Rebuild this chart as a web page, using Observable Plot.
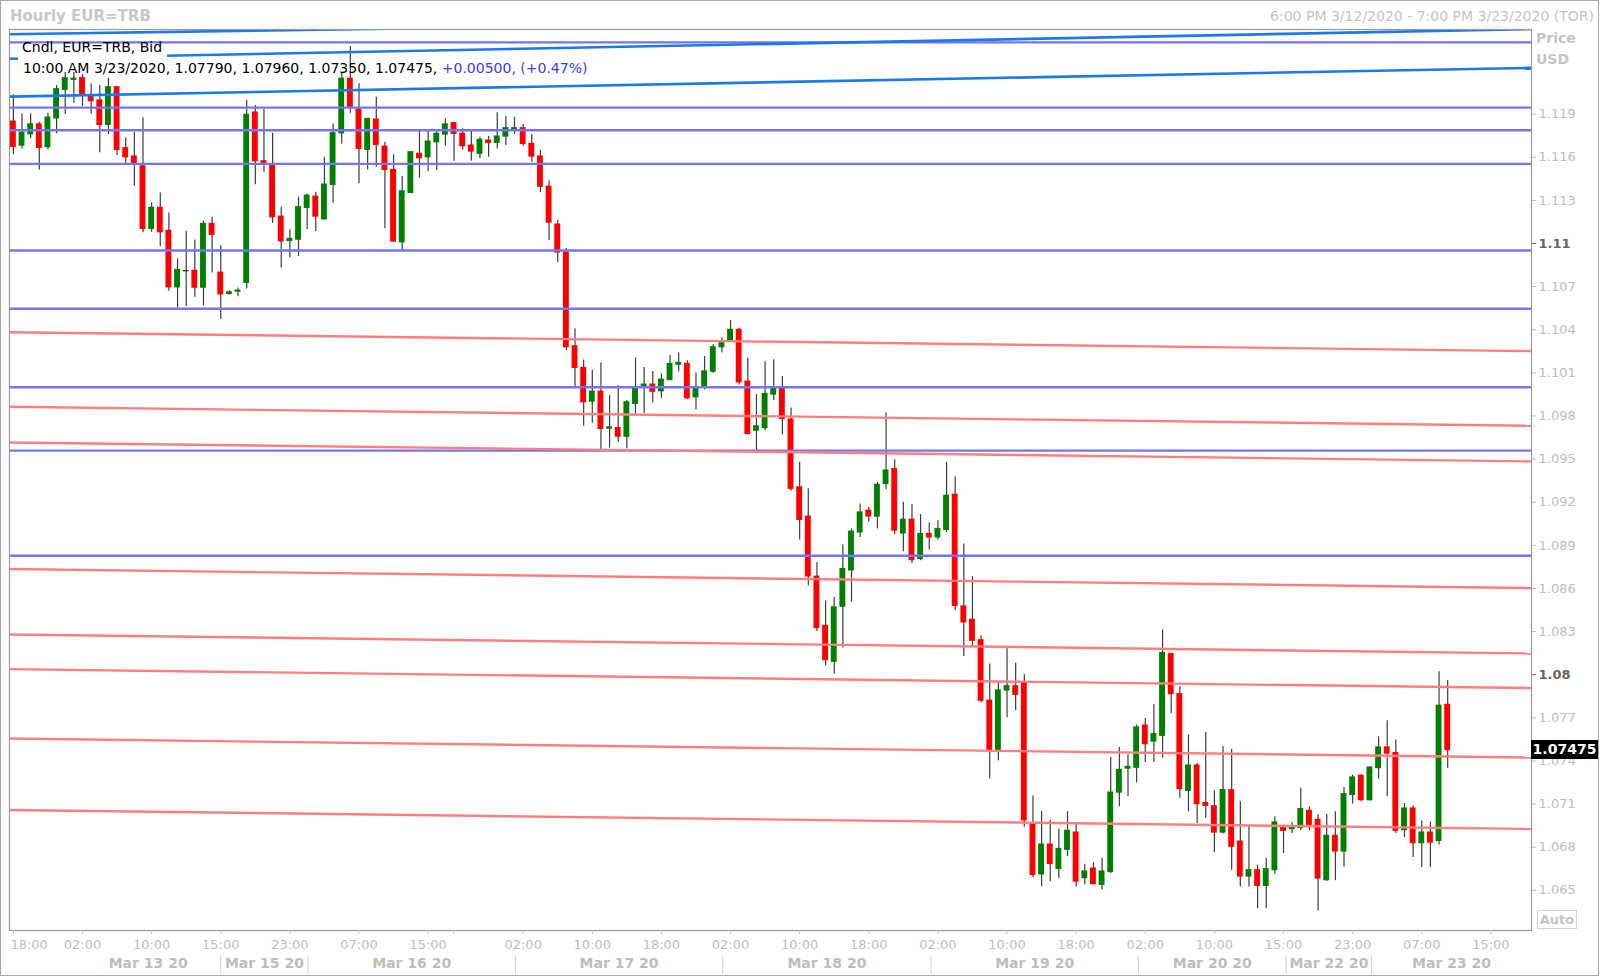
<!DOCTYPE html>
<html><head><meta charset="utf-8">
<script src="https://cdn.jsdelivr.net/npm/d3@7"></script>
<script src="https://cdn.jsdelivr.net/npm/@observablehq/plot@0.6"></script>
<style>
body{margin:0;background:#fff;font-family:"DejaVu Sans",sans-serif;}
#wrap{position:relative;width:1600px;height:977px;overflow:hidden;}
#wrap svg{position:absolute;left:0;top:0;}
.ov{position:absolute;white-space:nowrap;line-height:1;}
</style></head><body><div id="wrap"></div>
<script>
// Hourly EUR=TRB candles, index 0 = 6:00 PM 3/12/2020 (TOR)
const opens = [1.11848,1.11681,1.1176,1.11828,1.1167,1.11871,1.12069,1.12139,1.1215,1.12022,
1.11995,1.11825,1.12087,1.11663,1.11605,1.11537,1.11102,1.11248,1.11088,1.10695,
1.10807,1.1081,1.10693,1.11136,1.10797,1.10649,1.10665,1.10726,1.11911,1.11572,
1.11542,1.11187,1.11018,1.11027,1.11248,1.11326,1.11168,1.11408,1.11767,1.12146,
1.1193,1.11651,1.11862,1.11674,1.11512,1.11008,1.11352,1.11624,1.116,1.11704,
1.11758,1.11837,1.11763,1.11681,1.11624,1.11716,1.117,1.11744,1.11795,1.11802,
1.11693,1.11605,1.11395,1.11132,1.10937,1.10285,1.10134,1.099,1.09969,1.09712,
1.09716,1.09656,1.09884,1.10004,1.10018,1.09972,1.1005,1.10157,1.10162,1.0993,
1.10006,1.10108,1.10278,1.10325,1.10399,1.10039,1.09698,1.09716,1.09949,1.09999,
1.09775,1.09304,1.091,1.08682,1.0834,1.0809,1.08473,1.08726,1.0899,1.09141,
1.091,1.09327,1.09431,1.08983,1.09078,1.08805,1.08979,1.08955,1.09007,1.09252,
1.08475,1.08382,1.0824,1.07819,1.07471,1.0789,1.0792,1.07941,1.0696,1.06611,
1.06818,1.06649,1.06782,1.06902,1.06585,1.06651,1.06538,1.06628,1.0718,1.07347,
1.07353,1.07646,1.07535,1.07575,1.08144,1.07865,1.07192,1.07368,1.07107,1.07085,
1.06902,1.07197,1.06839,1.06596,1.0664,1.06531,1.0664,1.06942,1.06926,1.06933,
1.07053,1.0699,1.06571,1.06879,1.0677,1.07164,1.07297,1.07127,1.0735,1.07494,
1.07455,1.06919,1.07069,1.06828,1.06902,1.06844,1.0779];
const highs = [1.12034,1.11902,1.11902,1.11844,1.11906,1.12099,1.12189,1.12189,1.12175,1.12111,
1.12099,1.1215,1.1209,1.11735,1.1177,1.11874,1.11283,1.11352,1.11213,1.10893,
1.11083,1.11025,1.11155,1.11182,1.10985,1.10672,1.10691,1.11995,1.1196,1.11932,
1.11767,1.11252,1.11095,1.11322,1.11345,1.11356,1.116,1.11832,1.12189,1.1237,
1.12111,1.1187,1.12018,1.11704,1.11617,1.11466,1.11638,1.11779,1.11779,1.11779,
1.11867,1.11844,1.11798,1.11779,1.11739,1.11744,1.11909,1.11883,1.11878,1.11828,
1.11758,1.11647,1.11437,1.1116,1.10965,1.10406,1.1019,1.1012,1.10169,1.09941,
1.10011,1.09907,1.10204,1.10138,1.1011,1.10092,1.1022,1.10239,1.10185,1.10099,
1.10213,1.10296,1.10343,1.10464,1.1041,1.10202,1.09949,1.10178,1.10192,1.10075,
1.09856,1.09478,1.09293,1.08781,1.08515,1.08538,1.08902,1.09014,1.09188,1.09164,
1.09338,1.09821,1.09496,1.09199,1.09183,1.09113,1.09056,1.09071,1.09478,1.09377,
1.08909,1.08682,1.08271,1.08074,1.0795,1.0818,1.0808,1.08001,1.07157,1.07049,
1.06987,1.06926,1.07046,1.06965,1.06682,1.06693,1.06724,1.07424,1.07494,1.07443,
1.0765,1.07695,1.07791,1.08311,1.0815,1.07916,1.0758,1.07382,1.07598,1.07192,
1.07501,1.07482,1.07118,1.06949,1.06675,1.06724,1.07011,1.06954,1.06972,1.07211,
1.07081,1.07025,1.0703,1.07046,1.07215,1.07301,1.07304,1.07359,1.07568,1.07679,
1.07545,1.07104,1.07088,1.06983,1.06976,1.0802,1.0796];
const lows = [1.11619,1.11658,1.11728,1.11512,1.11651,1.11763,1.11897,1.11976,1.11953,1.11899,
1.11631,1.11758,1.11612,1.11554,1.11398,1.11074,1.11078,1.10978,1.10667,1.10552,
1.10561,1.10626,1.10566,1.10795,1.10471,1.10642,1.1063,1.10684,1.11408,1.11496,
1.11141,1.1083,1.109,1.10909,1.11097,1.11083,1.11164,1.1128,1.11693,1.11906,
1.11415,1.11512,1.1153,1.11102,1.11008,1.10951,1.11352,1.11454,1.115,1.11507,
1.11677,1.11572,1.11651,1.11572,1.11589,1.116,1.11658,1.11681,1.11758,1.11674,
1.11565,1.11353,1.1102,1.10867,1.10255,1.10006,1.09728,1.09749,1.09566,1.09577,
1.09616,1.0957,1.09814,1.09818,1.09891,1.09923,1.10046,1.10108,1.09914,1.09842,
1.09981,1.10097,1.10239,1.1032,1.10016,1.09668,1.09559,1.09698,1.09907,1.0967,
1.09276,1.08937,1.08619,1.08301,1.08062,1.08004,1.08185,1.08503,1.08955,1.0906,
1.09014,1.09287,1.08974,1.08856,1.08774,1.08793,1.08867,1.08937,1.0899,1.08445,
1.08127,1.08194,1.07805,1.07275,1.074,1.077,1.0775,1.06939,1.06589,1.06525,
1.06559,1.06582,1.06733,1.06524,1.06538,1.06538,1.06503,1.06617,1.07081,1.07153,
1.07246,1.07389,1.07389,1.0742,1.0773,1.07141,1.07046,1.06965,1.07002,1.06763,
1.06891,1.0664,1.06524,1.06524,1.06371,1.06371,1.06612,1.06756,1.06895,1.06914,
1.06914,1.06357,1.06561,1.06566,1.06663,1.071,1.07116,1.07122,1.07274,1.07153,
1.06895,1.06867,1.06728,1.06658,1.06658,1.06816,1.0735];
const closes = [1.11672,1.1177,1.11828,1.11665,1.11876,1.12073,1.1215,1.12146,1.12041,1.1199,
1.11825,1.12087,1.11651,1.116,1.11549,1.11102,1.11248,1.11078,1.10695,1.10816,
1.10807,1.10693,1.11136,1.1106,1.10646,1.1066,1.10672,1.11895,1.11572,1.11554,
1.11182,1.11015,1.11032,1.11252,1.11333,1.11187,1.1141,1.11767,1.12146,1.11948,
1.11658,1.11867,1.11686,1.11512,1.11013,1.11363,1.11635,1.11593,1.11709,1.11763,
1.11828,1.11763,1.11677,1.1164,1.11721,1.117,1.11744,1.11802,1.11802,1.11693,
1.11605,1.11395,1.11145,1.10937,1.10278,1.10134,1.09895,1.09969,1.0971,1.09721,
1.09656,1.09895,1.09988,1.10018,1.09969,1.10053,1.10162,1.10169,1.09923,1.09988,
1.1011,1.10278,1.10306,1.10399,1.10034,1.09675,1.09728,1.09953,1.09988,1.09779,
1.09293,1.09077,1.08684,1.08325,1.08101,1.08468,1.08735,1.08995,1.09129,1.09101,
1.09321,1.0942,1.09002,1.09078,1.08797,1.08979,1.08955,1.09014,1.09245,1.08479,
1.08364,1.08236,1.07819,1.07471,1.0789,1.0792,1.0786,1.06987,1.06607,1.06818,
1.06684,1.06788,1.06914,1.06561,1.06631,1.06543,1.06631,1.0718,1.07338,1.07359,
1.07633,1.07517,1.07587,1.08151,1.07865,1.07204,1.07368,1.071,1.07088,1.06902,
1.07197,1.06803,1.06596,1.0664,1.06531,1.06647,1.06972,1.06914,1.06942,1.07065,
1.06956,1.06582,1.06879,1.0677,1.07169,1.07285,1.07127,1.07354,1.07494,1.07452,
1.06914,1.07069,1.06828,1.06902,1.06832,1.07784,1.07475];

// time axis (candle index -> label)
const timeTickIdx = [0,8,16,24,32,40,48,51,59,67,75,83,91,99,107,115,123,131,139,147,155,163,171];
const timeTickLabels = ["18:00","02:00","10:00","15:00","23:00","07:00","15:00","","02:00","10:00","18:00","02:00","10:00","18:00","02:00","10:00","18:00","02:00","10:00","15:00","23:00","07:00","15:00"];
const dayStarts = [7.2,24,34.1,58.1,82.1,106.2,130.2,147.3,157.2];
const dayLabels = ["Mar 13 20","Mar 15 20","Mar 16 20","Mar 17 20","Mar 18 20","Mar 19 20","Mar 20 20","Mar 22 20","Mar 23 20"];
const xDomain = [-0.45, 175.7];
const yDomain = [1.062205, 1.124888];
const yTicks = [1.065,1.068,1.071,1.074,1.077,1.083,1.086,1.089,1.092,1.095,1.098,1.101,1.104,1.107,1.113,1.116,1.119];
const yTicksBold = [1.08,1.11];

// drawn support levels (horizontal)
const levels = [1.12399,1.11945,1.11788,1.11554,1.10951,1.10546,1.1,1.09559,1.08828];
// drawn red trend lines: value at left edge, value at right edge
const redLeft  = [1.10383,1.09864,1.09616,1.08735,1.0828,1.08039,1.07556,1.07059];
const redRight = [1.10251,1.09732,1.09484,1.08603,1.08148,1.07907,1.07424,1.06927];
// drawn blue trend lines
const blueLeft  = [1.12456,1.12285,1.12022];
const blueRight = [1.12611,1.12492,1.12222];

const candles = opens.map((o,i)=>({i, o, h:highs[i], l:lows[i], c:closes[i]}));
const redLines = redLeft.map((v,k)=>({x1:xDomain[0], x2:xDomain[1], v1:v, v2:redRight[k]}));
const blueLines = blueLeft.map((v,k)=>({x1:xDomain[0], x2:xDomain[1], v1:v, v2:blueRight[k]}));
const timeTicks = timeTickIdx.map((i,k)=>({i, label: timeTickLabels[k]}));
const dayData = dayLabels.map((label,k)=>({label, mid:(dayStarts[k] + (k+1<dayStarts.length ? dayStarts[k+1] : xDomain[1]))/2}));
const bodyColor = d => d.c > d.o ? "#008000" : d.c < d.o ? "#ff0000" : "#222";
const lastClose = closes[closes.length-1];

const chart = Plot.plot({
  width: 1600, height: 977,
  marginLeft: 9, marginRight: 69, marginTop: 29, marginBottom: 47,
  style: {fontFamily: '"DejaVu Sans", sans-serif', fontSize: "13px", background: "transparent", overflow: "visible"},
  x: {domain: xDomain, axis: null},
  y: {domain: yDomain, axis: null},
  marks: [
    Plot.ruleX(candles, {x: "i", y1: "l", y2: "h", stroke: "#3c3c3c", strokeWidth: 1.2}),
    Plot.rect(candles, {x1: d => d.i - 0.34, x2: d => d.i + 0.34, y1: "o", y2: "c", fill: bodyColor, insetTop: -0.6, insetBottom: -0.6}),
    Plot.ruleY(levels, {stroke: "#7474f4", strokeWidth: 2.4}),
    Plot.link(redLines, {x1: "x1", x2: "x2", y1: "v1", y2: "v2", stroke: "#ff7f7f", strokeWidth: 2.4, clip: true}),
    Plot.link(blueLines, {x1: "x1", x2: "x2", y1: "v1", y2: "v2", stroke: "#1a78f0", strokeWidth: 2.6, clip: true}),
    Plot.frame({stroke: "#9a9a9a", strokeWidth: 1.2}),
    Plot.axisY(yTicks, {anchor: "right", tickSize: 4, tickPadding: 3, color: "#bdbdbd", fontSize: 13, tickFormat: d => String(d)}),
    Plot.axisY(yTicksBold, {anchor: "right", tickSize: 4, tickPadding: 3, color: "#666", fontSize: 13, fontWeight: "bold", tickFormat: d => String(d)}),
    Plot.axisX(timeTickIdx, {anchor: "bottom", tickSize: 4, tickFormat: () => "", color: "#c4c4c4"}),
    Plot.text(timeTicks.slice(0,1), {x: "i", text: "label", frameAnchor: "bottom", dy: 18, dx: -3, textAnchor: "start", fill: "#bdbdbd", fontSize: 13}),
    Plot.text(timeTicks.slice(1).filter(d => d.label), {x: "i", text: "label", frameAnchor: "bottom", dy: 18, fill: "#bdbdbd", fontSize: 13}),
    Plot.axisX(dayStarts.slice(1), {anchor: "bottom", tickSize: 18, dy: 26, tickFormat: () => "", color: "#cfcfcf"}),
    Plot.text(dayData, {x: "mid", text: "label", frameAnchor: "bottom", dy: 37, fill: "#bdbdbd", fontSize: 14, fontWeight: "bold"})
  ]
});
const wrap = document.getElementById("wrap");
wrap.appendChild(chart);

function ov(html, css){ const d=document.createElement("div"); d.className="ov"; d.innerHTML=html; Object.assign(d.style, css); wrap.appendChild(d); return d; }
const yPx = chart.scale("y").apply(lastClose);
ov("", {left:"0px", top:"0px", width:"1599px", height:"976px", border:"1px solid #a8a8a8", boxSizing:"border-box"});
ov("Hourly EUR=TRB", {left:"10px", top:"9px", fontSize:"15px", fontWeight:"bold", color:"#c8c8c8"});
ov("6:00 PM 3/12/2020 - 7:00 PM 3/23/2020 (TOR)", {right:"6px", top:"9px", fontSize:"14px", color:"#c4c4c4"});
ov("Price", {left:"1536px", top:"31px", fontSize:"14px", fontWeight:"bold", color:"#c4c4c4"});
ov("USD", {left:"1536px", top:"52px", fontSize:"14px", fontWeight:"bold", color:"#c4c4c4"});
ov("", {left:"18px", top:"44px", width:"149px", height:"16px", background:"#fff"});
ov("Cndl, EUR=TRB, Bid", {left:"22px", top:"40px", fontSize:"14px", color:"#000"});
ov('10:00 AM 3/23/2020, 1.07790, 1.07960, 1.07350, 1.07475, <span style="color:#3838ff">+0.00500, (+0.47%)</span>', {left:"23px", top:"61px", fontSize:"14px", color:"#000"});
ov(String(lastClose), {left:"1531px", top:(yPx-9.5)+"px", width:"67px", height:"19px", lineHeight:"19px", background:"#000", color:"#fff", fontSize:"14px", fontWeight:"bold", textAlign:"center"});
ov("Auto", {left:"1537px", top:"910px", width:"38px", height:"17px", lineHeight:"17px", border:"1px solid #d0d0d0", color:"#c4c4c4", fontSize:"13px", fontWeight:"bold", textAlign:"center"});
</script></body></html>
